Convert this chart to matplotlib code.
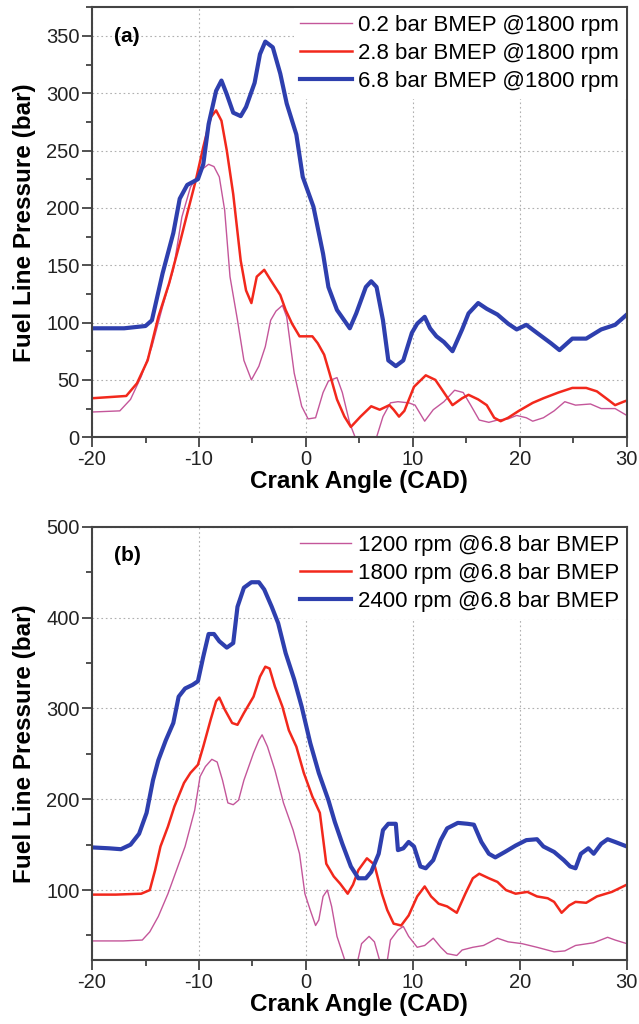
import matplotlib
matplotlib.use("Agg")
import matplotlib.pyplot as plt
from matplotlib.ticker import MultipleLocator

plt.rcParams['font.family'] = ['Liberation Sans', 'DejaVu Sans']
plt.rcParams['axes.unicode_minus'] = False

# (a) 1800 rpm, three loads  -- (crank angle, pressure) pairs
p02_1800 = [(-20, 22), (-17.4, 23), (-16.4, 33), (-15.4, 53), (-14.4, 79), (-13.4, 114), (-12.4, 146),
            (-11.6, 192), (-10.8, 218), (-9.8, 233), (-9.1, 238), (-8.6, 236), (-8.1, 227), (-7.6, 198),
            (-7.1, 140), (-6.4, 102), (-5.8, 67), (-5.1, 50), (-4.4, 62), (-3.8, 79), (-3.3, 102),
            (-2.8, 110), (-2.2, 115), (-1.8, 105), (-1.1, 56), (-0.4, 27), (0.2, 16), (0.9, 17),
            (1.6, 39), (2.1, 49), (2.9, 52), (3.4, 39), (4.1, 12), (4.6, 0), (5.3, -15), (6.0, -15),
            (6.6, 0), (7.2, 18), (7.9, 30), (8.6, 31), (9.6, 30), (10.2, 28), (11.1, 14), (11.9, 24),
            (12.9, 31), (13.9, 41), (14.7, 39), (15.4, 28), (16.2, 15), (17.1, 13), (17.9, 15),
            (18.9, 16), (19.7, 19), (20.6, 17), (21.2, 14), (22.2, 17), (23.2, 23), (24.2, 31),
            (25.2, 28), (26.6, 29), (27.6, 25), (28.9, 25), (30, 19)]
p28_1800 = [(-20, 34), (-16.8, 36), (-15.8, 47), (-14.8, 67), (-13.8, 105), (-12.8, 134), (-11.8, 169),
            (-11.1, 195), (-10.3, 224), (-9.6, 253), (-8.9, 279), (-8.4, 285), (-7.9, 276), (-7.4, 250),
            (-6.8, 212), (-6.1, 154), (-5.6, 128), (-5.1, 117), (-4.6, 140), (-3.9, 146), (-3.3, 137),
            (-2.4, 124), (-1.9, 111), (-1.3, 99), (-0.6, 88), (0.6, 88), (1.1, 82), (1.7, 72),
            (2.2, 56), (2.9, 33), (3.6, 18), (4.2, 9), (5.1, 18), (6.1, 27), (6.9, 24), (7.8, 28),
            (8.2, 24), (8.7, 18), (9.2, 23), (10.1, 44), (11.2, 54), (12.1, 50), (12.9, 39),
            (13.7, 28), (14.6, 34), (15.2, 37), (16.1, 33), (16.9, 28), (17.6, 17), (18.2, 14),
            (18.9, 17), (19.9, 23), (21.2, 30), (22.2, 34), (23.6, 39), (24.9, 43), (26.2, 43),
            (27.2, 40), (28.2, 33), (28.9, 28), (29.7, 31), (30, 32)]
p68_1800 = [(-20, 95), (-17, 95), (-15, 97), (-14.4, 102), (-13.4, 143), (-12.4, 178), (-11.8, 208),
            (-11.1, 220), (-10.1, 225), (-9.6, 238), (-9.1, 273), (-8.4, 302), (-7.9, 311), (-7.4, 299),
            (-6.8, 283), (-6.1, 280), (-5.6, 288), (-4.8, 309), (-4.3, 334), (-3.8, 345), (-3.1, 340),
            (-2.4, 317), (-1.8, 291), (-0.9, 264), (-0.3, 227), (0.7, 201), (1.6, 160), (2.1, 131),
            (2.9, 111), (4.1, 95), (4.7, 108), (5.6, 131), (6.1, 136), (6.6, 131), (7.2, 102),
            (7.7, 67), (8.4, 62), (9.1, 67), (9.9, 91), (10.4, 99), (11.1, 105), (11.6, 95),
            (12.2, 88), (12.9, 83), (13.7, 75), (14.6, 94), (15.2, 108), (16.1, 117), (16.9, 112),
            (17.9, 107), (18.9, 99), (19.7, 94), (20.6, 98), (21.6, 91), (22.9, 82), (23.7, 76),
            (24.9, 86), (26.2, 86), (27.6, 94), (28.9, 98), (30, 107)]

# (b) 6.8 bar BMEP, three speeds
rpm1200 = [(-20, 44), (-17.1, 44), (-15.3, 45), (-14.6, 54), (-13.8, 71), (-12.9, 96), (-12.1, 122),
           (-11.3, 148), (-10.4, 188), (-9.9, 225), (-9.4, 236), (-8.8, 244), (-8.3, 241), (-7.8, 221),
           (-7.3, 196), (-6.8, 194), (-6.3, 199), (-5.8, 221), (-4.9, 251), (-4.4, 265), (-4.1, 271),
           (-3.6, 258), (-2.9, 232), (-2.1, 196), (-1.2, 166), (-0.6, 140), (-0.1, 96), (0.4, 78),
           (0.9, 61), (1.2, 67), (1.6, 93), (2.0, 100), (2.4, 82), (2.9, 49), (3.6, 24), (4.1, 10),
           (4.7, 15), (5.2, 41), (5.9, 49), (6.4, 43), (6.9, 22), (7.2, 15), (7.6, 22), (7.9, 45),
           (8.6, 56), (9.1, 60), (9.6, 49), (10.4, 37), (11.1, 39), (11.9, 47), (12.6, 37),
           (13.2, 30), (14.1, 28), (14.6, 34), (15.6, 37), (16.6, 39), (17.9, 47), (18.9, 43),
           (20.2, 41), (21.6, 37), (23.2, 32), (24.2, 33), (25.2, 39), (26.9, 42), (28.2, 48),
           (28.9, 45), (30, 41)]
rpm1800 = [(-20, 95), (-17.8, 95), (-15.4, 96), (-14.6, 100), (-14.1, 122), (-13.6, 148), (-12.9, 170),
           (-12.3, 192), (-11.4, 218), (-10.8, 229), (-10.1, 238), (-9.6, 258), (-8.9, 288), (-8.4, 308),
           (-8.1, 312), (-7.6, 299), (-6.9, 284), (-6.4, 282), (-5.8, 295), (-4.9, 313), (-4.3, 335),
           (-3.8, 346), (-3.4, 344), (-2.9, 324), (-2.2, 302), (-1.6, 276), (-0.9, 258), (-0.2, 229),
           (0.6, 203), (1.3, 185), (1.9, 129), (2.6, 115), (3.2, 107), (3.9, 96), (4.4, 106),
           (4.9, 122), (5.7, 135), (6.4, 128), (7.1, 96), (7.6, 78), (8.2, 63), (8.9, 61), (9.6, 72),
           (10.4, 93), (11.1, 104), (11.7, 93), (12.4, 85), (13.2, 82), (14.1, 75), (14.9, 96),
           (15.6, 113), (16.2, 118), (17.1, 113), (17.9, 109), (18.7, 100), (19.6, 96), (20.7, 98),
           (21.6, 93), (22.6, 91), (23.2, 87), (23.9, 75), (24.6, 83), (25.2, 87), (26.2, 86),
           (27.2, 93), (28.6, 98), (30, 106)]
rpm2400 = [(-20, 147), (-18.4, 146), (-17.3, 145), (-16.4, 150), (-15.6, 162), (-14.9, 185), (-14.3, 221),
           (-13.8, 243), (-13.1, 265), (-12.4, 284), (-11.9, 313), (-11.3, 322), (-10.6, 326),
           (-10.1, 330), (-9.6, 357), (-9.1, 382), (-8.6, 382), (-8.1, 374), (-7.4, 367), (-6.8, 372),
           (-6.4, 412), (-5.8, 433), (-5.1, 439), (-4.4, 439), (-3.9, 431), (-3.2, 412), (-2.6, 394),
           (-1.9, 361), (-1.1, 332), (-0.4, 302), (0.4, 262), (1.2, 229), (2.1, 199), (2.7, 175),
           (3.4, 151), (4.2, 126), (4.9, 113), (5.6, 113), (6.1, 120), (6.8, 140), (7.2, 166),
           (7.7, 173), (8.4, 173), (8.6, 144), (9.1, 146), (9.6, 153), (10.1, 148), (10.7, 126),
           (11.2, 124), (11.9, 133), (12.6, 155), (13.2, 168), (14.2, 174), (15.1, 173), (15.7, 172),
           (16.4, 153), (17.1, 140), (17.7, 136), (18.6, 142), (19.6, 149), (20.6, 155), (21.6, 156),
           (22.2, 148), (23.2, 142), (24.1, 133), (24.7, 126), (25.2, 124), (25.7, 140), (26.4, 146),
           (26.9, 140), (27.6, 151), (28.2, 156), (28.9, 153), (30, 148)]

labels_a = ['0.2 bar BMEP @1800 rpm', '2.8 bar BMEP @1800 rpm', '6.8 bar BMEP @1800 rpm']
labels_b = ['1200 rpm @6.8 bar BMEP', '1800 rpm @6.8 bar BMEP', '2400 rpm @6.8 bar BMEP']

colors = ['#c4569a', '#f2281c', '#2e3fae']
widths = [1.0, 1.8, 3.0]

fig = plt.figure(figsize=(6.39, 10.24), dpi=100)
ax_a = fig.add_axes([0.144, 0.573, 0.837, 0.420])
ax_b = fig.add_axes([0.144, 0.0625, 0.837, 0.423])


def draw(ax, series, labels, tag):
    for s, lab, c, w in zip(series, labels, colors, widths):
        xs = [p[0] for p in s]
        ys = [p[1] for p in s]
        ax.plot(xs, ys, color=c, lw=w, label=lab, solid_joinstyle='round')
    ax.set_xlim(-20, 30)
    ax.xaxis.set_major_locator(MultipleLocator(10))
    ax.xaxis.set_minor_locator(MultipleLocator(5))
    ax.grid(True, which='major', linestyle=(0, (1.5, 2.5)), color='#b0b0b0', lw=0.8)
    ax.tick_params(which='both', direction='out', top=False, right=False,
                   labelsize=14.5, width=1.2, color='#333333', labelcolor='#222222', pad=2)
    ax.tick_params(which='major', length=7)
    ax.tick_params(which='minor', length=4.5)
    for sp in ax.spines.values():
        sp.set_linewidth(1.5)
        sp.set_color('#444444')
    ax.set_xlabel('Crank Angle (CAD)', fontsize=17.5, fontweight='bold', labelpad=1)
    ax.set_ylabel('Fuel Line Pressure (bar)', fontsize=17.5, fontweight='bold', labelpad=7)
    ax.legend(loc='upper right', fontsize=16, frameon=True, fancybox=False,
              facecolor='white', edgecolor='none', framealpha=1,
              handlelength=2.3, handletextpad=0.3, labelspacing=0.32,
              borderaxespad=0.05, borderpad=0.3)
    ax.text(0.042, 0.955, tag, transform=ax.transAxes, fontsize=15,
            fontweight='bold', va='top', ha='left')


draw(ax_a, [p02_1800, p28_1800, p68_1800], labels_a, '(a)')
ax_a.set_ylim(0, 375)
ax_a.yaxis.set_major_locator(MultipleLocator(50))
ax_a.yaxis.set_minor_locator(MultipleLocator(25))

draw(ax_b, [rpm1200, rpm1800, rpm2400], labels_b, '(b)')
ax_b.set_ylim(23, 500)
ax_b.yaxis.set_major_locator(MultipleLocator(100))
ax_b.yaxis.set_minor_locator(MultipleLocator(50))

fig.savefig('out.png', dpi=100)
